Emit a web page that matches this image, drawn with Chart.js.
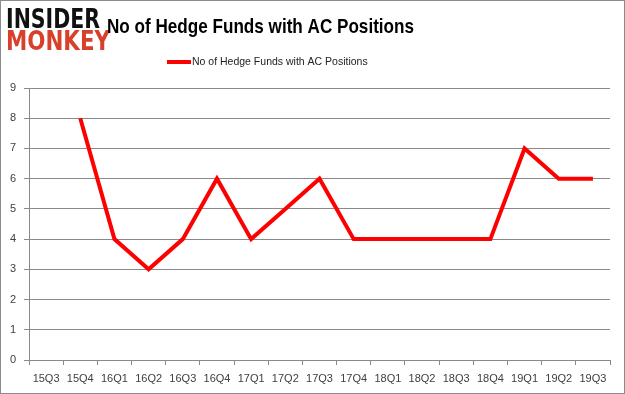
<!DOCTYPE html>
<html>
<head>
<meta charset="utf-8">
<script src="https://cdn.jsdelivr.net/npm/chart.js@4.4.0/dist/chart.umd.min.js"></script>
<style>
  html, body { margin: 0; padding: 0; background: #fff; }
  canvas { display: block; }
</style>
</head>
<body>
<canvas id="fundsChart" width="625" height="394"></canvas>
<script>
// quarters and hedge fund counts
const quarters = ['15Q3', '15Q4', '16Q1', '16Q2', '16Q3', '16Q4', '17Q1', '17Q2', '17Q3',
  '17Q4', '18Q1', '18Q2', '18Q3', '18Q4', '19Q1', '19Q2', '19Q3'];
const fundCounts = [null, 8, 4, 3, 4, 6, 4, 5, 6, 4, 4, 4, 4, 4, 7, 6, 6];
const seriesName = 'No of Hedge Funds with AC Positions';
const chartTitle = 'No of Hedge Funds with AC Positions';

const gridGray = '#8a8a8a';
const tickText = '#404040';

// title, legend, logo and frame are drawn by hand so they sit where the original has them
const decorations = {
  id: 'decorations',
  afterDraw(chart) {
    const ctx = chart.ctx;
    ctx.save();

    // squeeze a string into a given width
    function fitText(text, font, x, y, w, color) {
      ctx.font = font;
      ctx.fillStyle = color;
      ctx.textBaseline = 'alphabetic';
      ctx.textAlign = 'left';
      const m = ctx.measureText(text).width;
      ctx.save();
      ctx.translate(x, y);
      ctx.scale(Math.min(1, w / m), 1);
      ctx.fillText(text, 0, 0);
      ctx.restore();
    }

    // logo
    const logoFont = 'bold 26px "DejaVu Sans", sans-serif';
    fitText('INSIDER', logoFont, 6, 28, 94, '#111111');
    fitText('MONKEY', logoFont, 6, 50, 104, '#d9402b');

    // title
    fitText(chartTitle, 'bold 21px "Liberation Sans", sans-serif', 107, 33, 307, '#000');

    // legend
    const ds = chart.data.datasets[0];
    ctx.strokeStyle = ds.borderColor;
    ctx.lineWidth = 4;
    ctx.beginPath();
    ctx.moveTo(167, 62);
    ctx.lineTo(191, 62);
    ctx.stroke();
    ctx.font = '10.5px "Liberation Sans", sans-serif';
    ctx.fillStyle = '#222';
    ctx.textAlign = 'left';
    ctx.textBaseline = 'middle';
    ctx.fillText(ds.label, 192, 62);

    // frame
    ctx.strokeStyle = '#8c8c8c';
    ctx.lineWidth = 1;
    ctx.strokeRect(0.5, 0.5, chart.width - 1, chart.height - 1);
    ctx.restore();
  }
};

document.addEventListener('DOMContentLoaded', function() {
  const ctx = document.getElementById('fundsChart').getContext('2d');
  if (!ctx) {
    console.error('Canvas for funds chart not found!');
    return;
  }

  new Chart(ctx, {
    type: 'line',
    data: {
      labels: quarters,
      datasets: [{
        label: seriesName,
        data: fundCounts,
        borderColor: '#ff0000',
        borderWidth: 4,
        pointRadius: 0,
        fill: false,
        tension: 0,
      }],
    },
    options: {
      responsive: false,
      animation: false,
      layout: { padding: { top: 88, right: 15, left: 0, bottom: 0 } },
      plugins: {
        legend: { display: false },
        title: { display: false },
        tooltip: { enabled: false },
      },
      scales: {
        x: {
          offset: true,
          afterFit: function(scale) { scale.height = 34; },
          grid: { offset: true, drawOnChartArea: false, color: gridGray, tickLength: 5 },
          border: { color: gridGray },
          ticks: {
            color: tickText,
            font: { family: '"Liberation Sans", sans-serif', size: 11 },
            padding: 7,
            maxRotation: 0,
            autoSkip: false,
          },
        },
        y: {
          min: 0,
          max: 9,
          afterFit: function(scale) { scale.width = 29; },
          grid: { color: gridGray, tickLength: 5 },
          border: { color: gridGray },
          ticks: {
            stepSize: 1,
            color: tickText,
            font: { family: '"Liberation Sans", sans-serif', size: 11 },
            padding: 8,
          },
        },
      },
    },
    plugins: [decorations],
  });
});
</script>
</body>
</html>
